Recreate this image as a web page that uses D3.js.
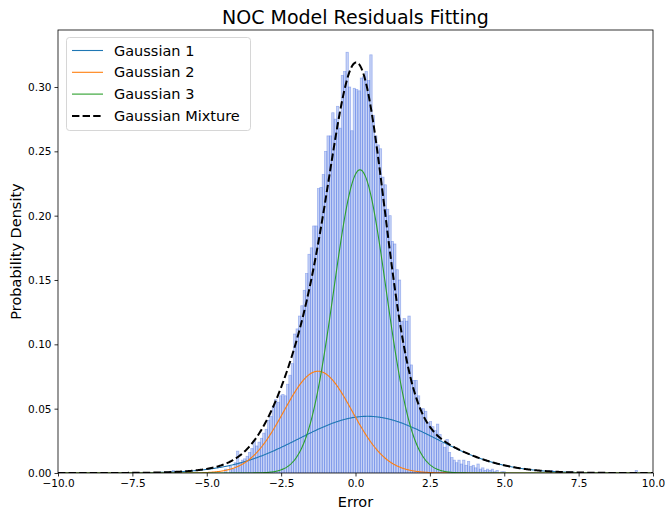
<!DOCTYPE html>
<html>
<head>
<meta charset="utf-8">
<script src="https://cdn.jsdelivr.net/npm/d3@7"></script>
<style>
  html, body { margin: 0; padding: 0; background: #fff; }
  svg { display: block; }
  text { font-family: "DejaVu Sans", sans-serif; fill: #000; }
</style>
</head>
<body>
<svg id="chart" width="665" height="513"></svg>
<script>
// ---------------- data ----------------
const chartTitle = "NOC Model Residuals Fitting";
const xLabel = "Error";
const yLabel = "Probability Density";

const xTicks = [-10, -7.5, -5, -2.5, 0, 2.5, 5, 7.5, 10];
const yTicks = [0, 0.05, 0.10, 0.15, 0.20, 0.25, 0.30];

// histogram (density) — bins of width binWidth starting at binStart
const binStart = -4.4;
const binWidth = 0.08;
const binDensity = [
  0.003, 0.000, 0.005, 0.003, 0.008, 0.017, 0.008, 0.010, 0.011, 0.013,
  0.016, 0.019, 0.025, 0.021, 0.024, 0.027, 0.031, 0.034, 0.041, 0.044,
  0.052, 0.057, 0.055, 0.060, 0.061, 0.060, 0.069, 0.076, 0.085, 0.108,
  0.112, 0.122, 0.130, 0.142, 0.155, 0.170, 0.175, 0.192, 0.192, 0.221,
  0.222, 0.232, 0.250, 0.262, 0.262, 0.280, 0.275, 0.285, 0.268, 0.309,
  0.312, 0.327, 0.300, 0.266, 0.299, 0.298, 0.297, 0.307, 0.308, 0.312,
  0.305, 0.325, 0.278, 0.262, 0.255, 0.252, 0.230, 0.224, 0.205, 0.200,
  0.180, 0.178, 0.158, 0.150, 0.118, 0.120, 0.118, 0.122, 0.084, 0.072,
  0.072, 0.060, 0.050, 0.050, 0.048, 0.039, 0.040, 0.036, 0.033, 0.038,
  0.030, 0.023, 0.020, 0.026, 0.016, 0.012, 0.010, 0.008, 0.010, 0.007,
  0.010, 0.006, 0.009, 0.005, 0.006, 0.004, 0.007, 0.003, 0.004, 0.002,
  0.003, 0.002, 0.003, 0.001, 0.002, 0.000, 0.001, 0.001
];
// isolated outlier bins (left edge, density)
const outlierBinLeft = [-6.16, 6.56, 9.40];
const outlierDensity = [0.002, 0.002, 0.002];

// fitted Gaussian mixture components
const componentNames = ["Gaussian 1", "Gaussian 2", "Gaussian 3"];
const componentWeights = [0.254, 0.228, 0.518];
const componentMeans = [0.40, -1.26, 0.15];
const componentSigmas = [2.30, 1.15, 0.877];
const componentColors = ["#1f77b4", "#ff7f0e", "#2ca02c"];
const mixtureName = "Gaussian Mixture";

// ---------------- layout ----------------
const svg = d3.select("#chart");
const M = { left: 58, right: 653, top: 30, bottom: 473 };
const x = d3.scaleLinear().domain([-10, 10]).range([M.left, M.right]);
const y = d3.scaleLinear().domain([0, 0.3443]).range([M.bottom, M.top]);

svg.append("defs").append("clipPath").attr("id", "clip")
  .append("rect").attr("x", M.left).attr("y", M.top)
  .attr("width", M.right - M.left).attr("height", M.bottom - M.top);

const plot = svg.append("g").attr("clip-path", "url(#clip)");

// histogram bars
const bins = binDensity.map((d, i) => ({ x0: binStart + i * binWidth, d }))
  .concat(outlierBinLeft.map((l, i) => ({ x0: l, d: outlierDensity[i] })))
  .filter(b => b.d > 0);

plot.append("g").selectAll("rect").data(bins).join("rect")
  .attr("x", b => x(b.x0))
  .attr("width", b => x(b.x0 + binWidth) - x(b.x0))
  .attr("y", b => y(b.d))
  .attr("height", b => y(0) - y(b.d))
  .attr("fill", "rgba(65,105,225,0.30)")
  .attr("stroke", "rgba(65,105,225,0.45)")
  .attr("stroke-width", 0.7);

// curves
const gauss = (v, m, s) => Math.exp(-0.5 * ((v - m) / s) ** 2) / (s * Math.sqrt(2 * Math.PI));
const xs = d3.range(-10, 10.0001, 0.02);
const line = d3.line().x(p => x(p[0])).y(p => y(p[1]));

componentNames.forEach((name, k) => {
  const pts = xs.map(v => [v, componentWeights[k] * gauss(v, componentMeans[k], componentSigmas[k])]);
  plot.append("path").datum(pts).attr("d", line)
    .attr("fill", "none").attr("stroke", componentColors[k]).attr("stroke-width", 1.1);
});

const mixPts = xs.map(v => [v, d3.sum(componentNames, (n, k) => componentWeights[k] * gauss(v, componentMeans[k], componentSigmas[k]))]);
plot.append("path").datum(mixPts).attr("d", line)
  .attr("fill", "none").attr("stroke", "#000").attr("stroke-width", 2)
  .attr("stroke-dasharray", "7.4,3.2");

// axes
const fmtX = d3.format(".1f");
const fmtY = d3.format(".2f");
const xAxis = svg.append("g").attr("transform", `translate(0,${M.bottom})`)
  .call(d3.axisBottom(x).tickValues(xTicks).tickFormat(fmtX).tickSize(3.5).tickPadding(3));
const yAxis = svg.append("g").attr("transform", `translate(${M.left},0)`)
  .call(d3.axisLeft(y).tickValues(yTicks).tickFormat(fmtY).tickSize(3.5).tickPadding(3));
[xAxis, yAxis].forEach(a => {
  a.select(".domain").remove();
  a.selectAll("text").attr("font-size", 10.5).attr("font-family", "DejaVu Sans").attr("fill", "#000");
  a.selectAll("line").attr("stroke", "#000").attr("stroke-width", 0.8);
});

// frame
svg.append("rect").attr("x", M.left).attr("y", M.top)
  .attr("width", M.right - M.left).attr("height", M.bottom - M.top)
  .attr("fill", "none").attr("stroke", "#000").attr("stroke-width", 0.8);

// titles
svg.append("text").attr("x", (M.left + M.right) / 2).attr("y", 24)
  .attr("text-anchor", "middle").attr("font-size", 19).text(chartTitle);
svg.append("text").attr("x", (M.left + M.right) / 2).attr("y", 507)
  .attr("text-anchor", "middle").attr("font-size", 14.5).text(xLabel);
svg.append("text").attr("transform", `translate(21,${(M.top + M.bottom) / 2}) rotate(-90)`)
  .attr("text-anchor", "middle").attr("font-size", 14.5).text(yLabel);

// legend
const lg = svg.append("g");
lg.append("rect").attr("x", 66.5).attr("y", 37.5).attr("width", 184).attr("height", 93)
  .attr("rx", 3).attr("fill", "rgba(255,255,255,0.8)").attr("stroke", "#cccccc").attr("stroke-width", 0.8);
const legendItems = componentNames.map((n, k) => ({ name: n, color: componentColors[k], dash: null, w: 1.1 }))
  .concat([{ name: mixtureName, color: "#000", dash: "7.4,3.2", w: 2 }]);
legendItems.forEach((it, i) => {
  const cy = 50.5 + i * 21.8;
  lg.append("line").attr("x1", 72).attr("x2", 103).attr("y1", cy).attr("y2", cy)
    .attr("stroke", it.color).attr("stroke-width", it.w).attr("stroke-dasharray", it.dash);
  lg.append("text").attr("x", 114).attr("y", cy + 5).attr("font-size", 14.5).text(it.name);
});
</script>
</body>
</html>
